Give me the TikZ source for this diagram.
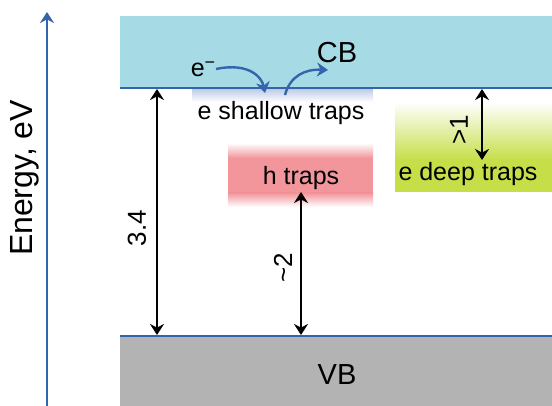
\documentclass[tikz,border=0pt]{standalone}
\usepackage{fontspec}
\setmainfont{Liberation Sans}
\usetikzlibrary{positioning,arrows.meta,calc}
\definecolor{cbblue}{RGB}{166,219,229}
\definecolor{edgeblue}{RGB}{52,100,172}
\definecolor{vbgray}{RGB}{179,179,179}
\definecolor{hpink}{RGB}{242,150,156}
\definecolor{egreen}{RGB}{198,222,72}
\definecolor{shallowblue}{RGB}{190,204,232}

\begin{document}
\begin{tikzpicture}[x=0.5pt, y=-0.5pt, thick, >={Stealth[length=5.5pt,width=7pt,inset=1.8pt]}]
% Definition of styles:
\tikzset{%
  bandlabel/.style = {font=\fontsize{14.5}{16}\selectfont, inner sep=0pt},
  traplabel/.style = {font=\fontsize{12.5}{14}\selectfont, inner sep=0pt},
  gaplabel/.style  = {font=\fontsize{13}{15}\selectfont, rotate=90, inner sep=0pt},
  gap/.style       = {<->, black, line width=1.2pt},
  hop/.style       = {->, edgeblue, line width=1.2pt},
  edgeline/.style  = {edgeblue, line width=1.1pt}
}
\useasboundingbox (0,0) rectangle (552,406);
% bands and trap levels
\fill[cbblue] (120,16) rectangle (552,88);
\fill[vbgray] (120,336) rectangle (552,406);
\shade[top color=shallowblue, bottom color=white] (192,89) rectangle (373,102);
\shade[top color=white, bottom color=hpink] (228,143) rectangle (373,158);
\fill[hpink] (228,158) rectangle (373,193);
\shade[top color=hpink, bottom color=white] (228,193) rectangle (373,207);
\shade[top color=white, bottom color=egreen] (395,102) rectangle (552,160);
\fill[egreen] (395,160) rectangle (552,192);
\draw[edgeline] (120,88) -- (552,88);
\draw[edgeline] (120,336) -- (552,336);

\draw
  node [bandlabel] (CB) at (337,53) {CB}
  node [bandlabel] (VB) at (337,375) {VB}
  node [traplabel] (elec) at (203,69) {e\raisebox{0.6ex}{\small −}}
  node [traplabel] (shallow) at (281,113) {e shallow traps}
  node [traplabel] (htraps) at (301,178) {h traps}
  node [traplabel] (deep) at (468,174) {e deep traps}
  node [gaplabel] (g34) at (137,228) {3.4}
  node [gaplabel] (g2) at (283,268) {\textasciitilde 2}
  node [gaplabel] (g1) at (459,130) {>1}
  node [font=\fontsize{16}{18}\selectfont, rotate=90, inner sep=0pt] (energy) at (25,178) {Energy, eV};

% end points on the band edges
\coordinate (cb34) at (157,89);
\coordinate (vb34) at (157,335);
\coordinate (h2) at (301,192);
\coordinate (vb2) at (301,335);
\coordinate (cb1) at (482,89);
\coordinate (deep1) at (482,160);
\coordinate (axisbot) at (47,406);
\coordinate (axistop) at (47,12);
\coordinate (trapin) at (265,93);
\coordinate (trapout) at (285,95);
\coordinate (cbout) at (328,70);

\draw[gap] (cb34) -- (vb34);
\draw[gap] (h2) -- (vb2);
\draw[gap] (cb1) -- (deep1);
\draw[hop] (axisbot) -- (axistop);
\draw[hop] (elec.east) .. controls (250,62) and (262,78) .. (trapin);
\draw[hop] (trapout) .. controls (290,76) and (305,69) .. (cbout);
%
\end{tikzpicture}
\end{document}
